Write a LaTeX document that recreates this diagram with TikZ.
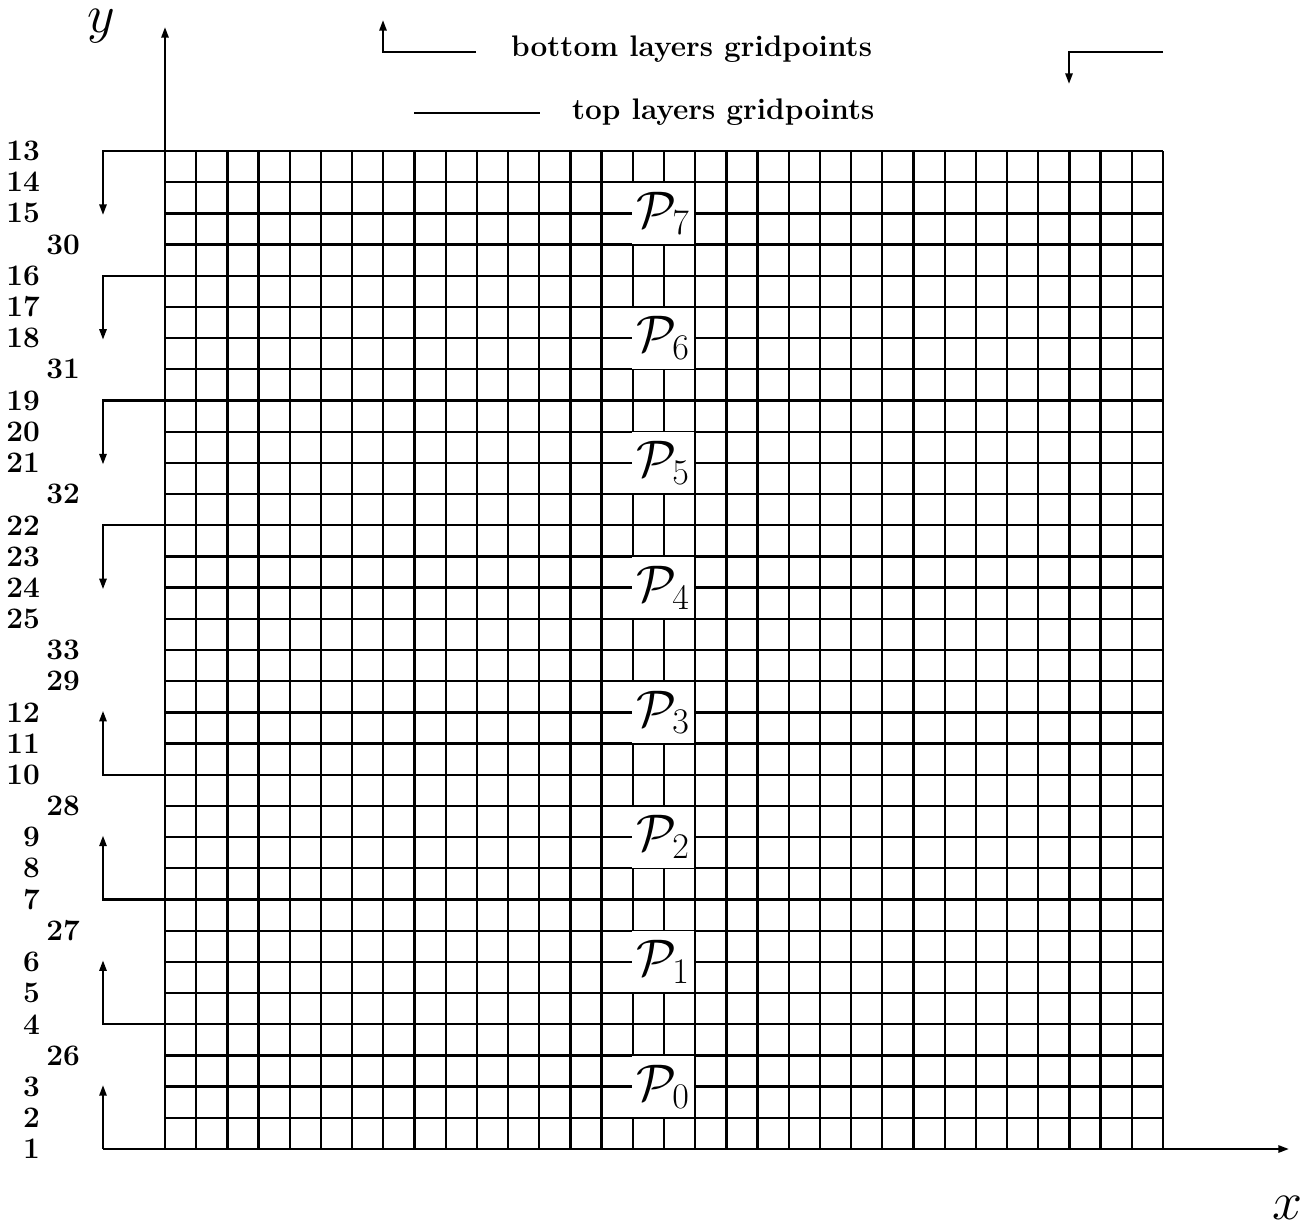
\documentclass[tikz,border=0pt]{standalone}
\usepackage{fix-cm}
\usetikzlibrary{arrows.meta}
\begin{document}
\begin{tikzpicture}[x=0.03cm,y=-0.03cm, line width=2pt, line join=miter,
  num/.style={font=\fontsize{25.4}{29}\selectfont\bfseries, inner sep=0pt, anchor=east},
  legendtext/.style={font=\fontsize{25.4}{29}\selectfont\bfseries, inner sep=0pt, anchor=base west},
  plabel/.style={fill=white, inner sep=0pt, minimum width=1.86cm, minimum height=1.83cm, font=\fontsize{44}{50}\selectfont},
  axislabel/.style={font=\fontsize{46}{52}\selectfont, inner sep=0pt},
  arr/.style={-{Triangle[length=9pt,width=6pt]}},
  gridline/.style={line width=2pt}]
\useasboundingbox (0,0) rectangle (1315,1224);
% grid
\foreach \k in {0,...,32} {
  \draw[gridline] ({165+\k*31.1875},151) -- ({165+\k*31.1875},1149);
  \draw[gridline] (165,{151+\k*31.1875}) -- (1163,{151+\k*31.1875});
}
% axes
\coordinate (yorig) at (165,1149);
\coordinate (ytip) at (165,27);
\coordinate (xstart) at (103,1149);
\coordinate (xtip) at (1289,1149);
\draw[arr] (yorig) -- (ytip);
\draw[arr] (xstart) -- (xtip);
\node[axislabel] (ylab) at (101,26) {$y$};
\node[axislabel] (xlab) at (1287,1208) {$x$};
% top-layer brackets (pointing down)
\foreach \r in {0,4,8,12} {
  \coordinate (ta\r) at (165,{151+\r*31.1875});
  \coordinate (tb\r) at (103,{151+\r*31.1875});
  \coordinate (tc\r) at (103,{151+\r*31.1875+64});
  \draw[arr] (ta\r) -- (tb\r) -- (tc\r);
}
% bottom-layer brackets (pointing up)
\foreach \r in {20,24,28} {
  \coordinate (ba\r) at (165,{151+\r*31.1875});
  \coordinate (bb\r) at (103,{151+\r*31.1875});
  \coordinate (bc\r) at (103,{151+\r*31.1875-64});
  \draw[arr] (ba\r) -- (bb\r) -- (bc\r);
}
\coordinate (bb32) at (103,1149);
\coordinate (bc32) at (103,1085);
\draw[arr] (bb32) -- (bc32);
% row numbers
\foreach \r/\t in {0/13,1/14,2/15,4/16,5/17,6/18,8/19,9/20,10/21,12/22,13/23,14/24,15/25,
                   18/12,19/11,20/10,22/9,23/8,24/7,26/6,27/5,28/4,30/3,31/2,32/1} {
  \node[num] (n\t) at (41,{151+\r*31.1875}) {\t};
}
\foreach \r/\t in {3/30,7/31,11/32,16/33,17/29,21/28,25/27,29/26} {
  \node[num] (n\t) at (81,{151+\r*31.1875}) {\t};
}
% P labels
\foreach \i in {0,...,7} {
  \node[plabel] (P\i) at (663,{151+(30-4*\i)*31.1875}) {$\mathcal{P}_{\i}$};
}
% legend
\coordinate (lba) at (476,52);
\coordinate (lbb) at (383,52);
\coordinate (lbc) at (383,20);
\draw[arr] (lba) -- (lbb) -- (lbc);
\node[legendtext] (lbot) at (510,56) {bottom layers gridpoints};
\coordinate (lta) at (414,113);
\coordinate (ltb) at (540,113);
\draw (lta) -- (ltb);
\node[legendtext] (ltop) at (571,119) {top layers gridpoints};
\coordinate (ra) at (1163,52);
\coordinate (rb) at (1069,52);
\coordinate (rc) at (1069,84);
\draw[arr] (ra) -- (rb) -- (rc);
\end{tikzpicture}
\end{document}
